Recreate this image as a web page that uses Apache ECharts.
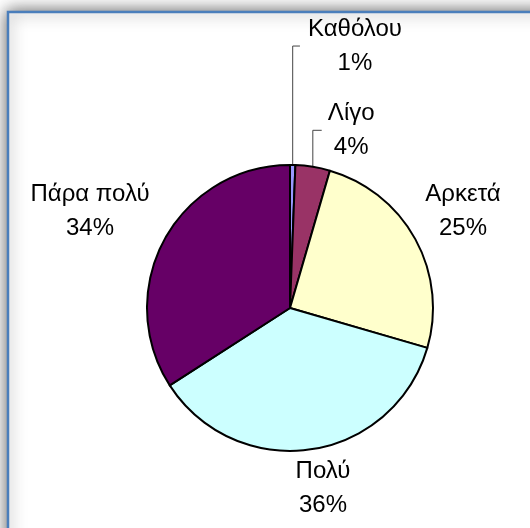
<!DOCTYPE html>
<html>
<head>
<meta charset="utf-8">
<script src="https://cdn.jsdelivr.net/npm/echarts@6/dist/echarts.min.js"></script>
<style>
html, body { margin: 0; padding: 0; background: #fff; }
#chart { width: 530px; height: 528px; }
</style>
</head>
<body>
<div id="chart"></div>
<script>
var categories = ['Καθόλου', 'Λίγο', 'Αρκετά', 'Πολύ', 'Πάρα πολύ'];
var values = [0.6, 3.9, 25.0, 36.4, 34.1];
var colors = ['#9999ff', '#993366', '#ffffcc', '#ccffff', '#660066'];

// where each label sits (Excel "best fit" look)
var labelSetup = [
  { width: 100, line: true, length: 119, length2: 5 },
  { width: 49, line: true, length: 37, length2: 3 },
  { width: 130, alignTo: 'edge', edgeDistance: 2, length: 57 },
  { width: 130, alignTo: 'edge', edgeDistance: 142, length: 39 },
  { width: 130, alignTo: 'edge', edgeDistance: 25, length: 59 }
];

var rich = {};
labelSetup.forEach(function (s, i) {
  rich['s' + i] = { width: s.width, align: 'center', lineHeight: 34 };
});

var seriesData = categories.map(function (name, i) {
  var s = labelSetup[i];
  return {
    name: name,
    value: values[i],
    itemStyle: { color: colors[i] },
    label: { alignTo: s.alignTo || 'none', edgeDistance: s.edgeDistance || 0 },
    labelLine: { show: !!s.line, length: s.length, length2: s.length2 || 0 }
  };
});

var myChart = echarts.init(document.getElementById('chart'));
myChart.setOption({
  backgroundColor: '#fff',
  animation: false,
  graphic: [{
    type: 'rect',
    silent: true,
    z: 0,
    shape: { x: 8, y: 12, width: 600, height: 600 },
    style: {
      fill: '#fff',
      stroke: '#4a7ebb',
      lineWidth: 2.5,
      shadowBlur: 16,
      shadowColor: 'rgba(0,0,0,0.6)'
    }
  }],
  series: [{
    type: 'pie',
    z: 5,
    center: [290, 308],
    radius: 143,
    startAngle: 90,
    clockwise: true,
    avoidLabelOverlap: false,
    silent: true,
    emphasis: { disabled: true },
    itemStyle: { borderColor: '#000', borderWidth: 2 },
    label: {
      show: true,
      position: 'outside',
      color: '#000',
      fontFamily: 'Liberation Sans, Arial, sans-serif',
      fontSize: 24,
      distanceToLabelLine: 5,
      rich: rich,
      formatter: function (p) {
        var k = 's' + p.dataIndex;
        return '{' + k + '|' + p.name + '}\n{' + k + '|' + Math.round(p.percent) + '%}';
      }
    },
    labelLine: {
      show: false,
      lineStyle: { color: '#444', width: 1 }
    },
    labelLayout: function (params) {
      var p = params.labelLinePoints;
      if (!p || p.length < 3) {
        return {};
      }
      // vertical leader like Excel
      return { labelLinePoints: [p[0], [p[0][0], p[1][1]], p[2]] };
    },
    data: seriesData
  }]
});
</script>
</body>
</html>
